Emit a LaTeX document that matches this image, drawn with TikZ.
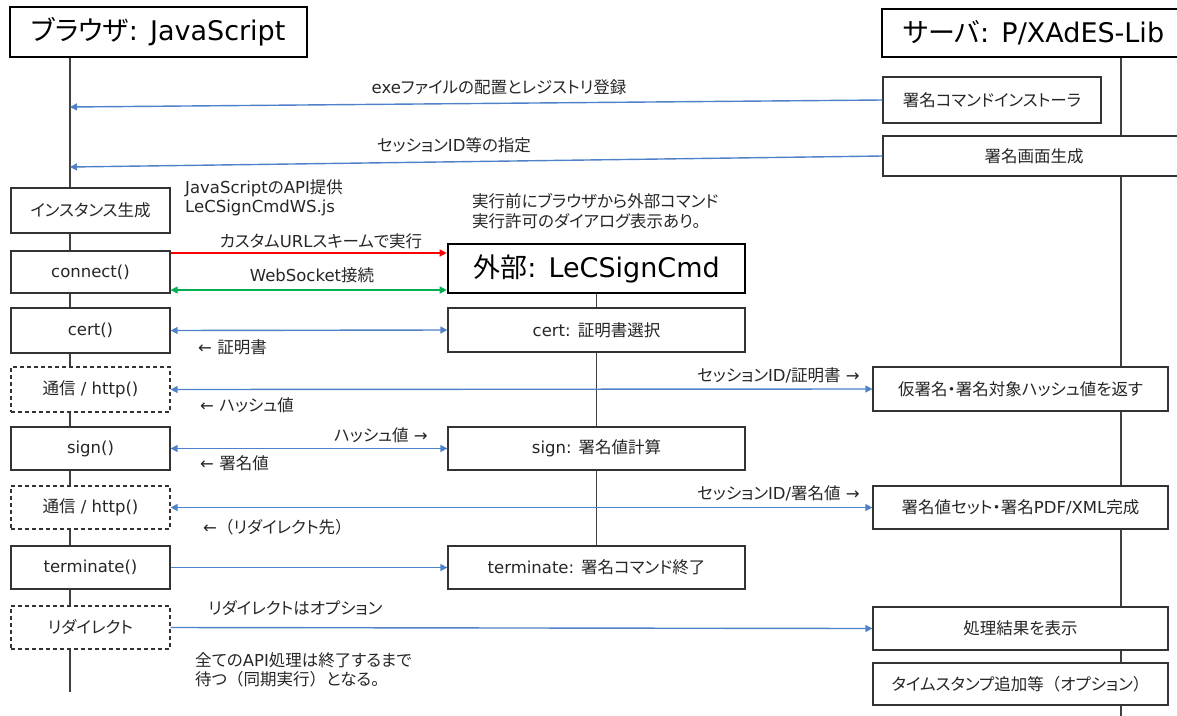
\documentclass[tikz,border=0pt]{standalone}
\usepackage{fontspec}
\setmainfont{DejaVu Sans}
\newfontfamily\jpf{Noto Sans CJK JP}[RawFeature=+palt]
\newfontfamily\jpn{Noto Sans CJK JP}
\newcommand\J[1]{{\jpf #1}}
\newcommand\JN[1]{{\jpn #1}}
\newcommand\hcolon{:\hspace{0.45em}}
\usetikzlibrary{arrows.meta,calc}
\definecolor{boxc}{HTML}{333333}
\definecolor{txt}{HTML}{262626}
\definecolor{life}{HTML}{404040}
\definecolor{bluea}{HTML}{4F81C8}
\definecolor{reda}{HTML}{FF0000}
\definecolor{greena}{HTML}{00B050}
\begin{document}
\begin{tikzpicture}[x=1pt,y=-1pt,
  box/.style={draw=boxc, line width=1.3pt, fill=white, inner sep=0pt, text=txt,
    font=\fontsize{16.5}{20}\selectfont},
  dbox/.style={box, dash pattern=on 4pt off 3pt},
  head/.style={draw=black, line width=2.6pt, fill=white, inner sep=0pt, text=black,
    font=\fontsize{27}{32}\selectfont},
  lbl/.style={inner sep=0pt, text=txt, font=\fontsize{16.5}{20}\selectfont},
  note/.style={lbl, align=left, anchor=west, font=\fontsize{16.5}{19.5}\selectfont},
  lifeline/.style={draw=life, line width=1.5pt},
  msg/.style={draw=bluea, line width=1.4pt, -{Triangle[length=7pt,width=7pt]}},
  dmsg/.style={draw=bluea, line width=1.4pt, {Triangle[length=7pt,width=7pt]}-{Triangle[length=7pt,width=7pt]}}
]
\useasboundingbox (0,0) rectangle (1177,715);

% lifeline end points
\coordinate (bend) at (70,692);
\coordinate (send) at (1121,720);
\coordinate (bl1) at (70,107);
\coordinate (bl2) at (70,167);

% ---- lifelines (behind boxes)
\draw[lifeline] (70,57) -- (bend);
\draw[lifeline] (1121,57) -- (send);
\draw[lifeline] (596.5,293) -- (596.5,546);

% ---- headers
\node[head, minimum width=297pt, minimum height=50pt] (bhead) at (158.5,32) {\J{ブラウザ}\hcolon JavaScript};
\node[head, minimum width=303pt, minimum height=48pt] (shead) at (1033.5,33) {\J{サーバ}\hcolon P/XAdES-Lib};
\node[head, minimum width=297pt, minimum height=49pt] (chead) at (596.5,268.5) {\J{外部}\hcolon LeCSignCmd};

% ---- browser boxes
\node[box, minimum width=159pt, minimum height=45pt] (inst) at (90.5,210.5) {\J{インスタンス生成}};
\node[box, minimum width=159pt, minimum height=42pt] (conn) at (90.5,272) {connect()};
\node[box, minimum width=159pt, minimum height=45pt] (bcert) at (90.5,330.5) {cert()};
\node[dbox, minimum width=159pt, minimum height=45pt] (http1) at (90.5,389.5) {\J{通信} / http()};
\node[box, minimum width=159pt, minimum height=43pt] (bsign) at (90.5,448.5) {sign()};
\node[dbox, minimum width=159pt, minimum height=43pt] (http2) at (90.5,507.5) {\J{通信} / http()};
\node[box, minimum width=159pt, minimum height=43pt] (bterm) at (90.5,567.5) {terminate()};
\node[dbox, minimum width=159pt, minimum height=43pt] (redir) at (90.5,627.5) {\J{リダイレクト}};

% ---- command boxes
\node[box, minimum width=297pt, minimum height=44pt] (ccert) at (596.5,330) {cert: \J{証明書選択}};
\node[box, minimum width=297pt, minimum height=43pt] (csign) at (596.5,448.5) {sign: \J{署名値計算}};
\node[box, minimum width=297pt, minimum height=43pt] (cterm) at (596.5,567.5) {terminate: \J{署名コマンド終了}};

% ---- server boxes
\node[box, minimum width=218pt, minimum height=46pt] (sinst) at (992,100) {\J{署名コマンドインストーラ}};
\node[box, minimum width=302pt, minimum height=40pt] (sgamen) at (1034,156) {\J{署名画面生成}};
\node[box, minimum width=295pt, minimum height=44pt] (skari) at (1020.5,389) {\J{仮署名・署名対象ハッシュ値を返す}};
\node[box, minimum width=295pt, minimum height=43pt] (sset) at (1020.5,507.5) {\J{署名値セット・署名}PDF/XML\J{完成}};
\node[box, minimum width=295pt, minimum height=43pt] (sres) at (1020.5,628.5) {\J{処理結果を表示}};
\node[box, minimum width=295pt, minimum height=42pt] (sts) at (1020.5,684) {\J{タイムスタンプ追加等}\JN{（}\J{オプション}\JN{）}};

% ---- messages
\draw[msg] (sinst.west) -- (bl1);
\draw[msg] (sgamen.west) -- (bl2);

\coordinate (yred) at (0,253);
\coordinate (ygreen) at (0,290);
\draw[draw=reda, line width=1.4pt, -{Triangle[length=7pt,width=7pt]}] (conn.east |- yred) -- (chead.west |- yred);
\draw[draw=greena, line width=1.4pt, {Triangle[length=7pt,width=7pt]}-{Triangle[length=7pt,width=7pt]}] (conn.east |- ygreen) -- (chead.west |- ygreen);

\draw[dmsg] (bcert.east) -- (ccert.west);
\draw[dmsg] (http1.east) -- (skari.west);
\draw[dmsg] (bsign.east) -- (csign.west);
\draw[dmsg] (http2.east) -- (sset.west);
\draw[msg] (bterm.east) -- (cterm.west);
\draw[msg] (redir.east) -- (sres.west);

% ---- labels
\node[lbl] (l1) at (499,87) {exe\J{ファイルの配置とレジストリ登録}};
\node[lbl] (l2) at (454,145) {\J{セッション}ID\J{等の指定}};
\node[note] (n1) at (185,198) {JavaScript\J{の}API\J{提供}\\LeCSignCmdWS.js};
\node[note] (n2) at (472,211) {\J{実行前にブラウザから外部コマンド}\\\J{実行許可のダイアログ表示あり。}};
\node[lbl] (l3) at (321,241) {\J{カスタム}URL\J{スキームで実行}};
\node[lbl] (l4) at (312,275) {WebSocket\J{接続}};
\node[lbl, anchor=west] (l5) at (198,347) {← \J{証明書}};
\node[lbl, anchor=east] (l6) at (860,375) {\J{セッション}ID/\J{証明書} →};
\node[lbl, anchor=west] (l7) at (200,405) {← \J{ハッシュ値}};
\node[lbl, anchor=east] (l8) at (428,435) {\J{ハッシュ値} →};
\node[lbl, anchor=west] (l9) at (200,463) {← \J{署名値}};
\node[lbl, anchor=east] (l10) at (860,493) {\J{セッション}ID/\J{署名値} →};
\node[lbl, anchor=west] (l11) at (203,527) {←\JN{（}\J{リダイレクト先}\JN{）}};
\node[lbl, anchor=west] (l12) at (208,608) {\J{リダイレクトはオプション}};
\node[note] (n3) at (195,670) {\J{全ての}API\J{処理は終了するまで}\\\J{待つ}\JN{（}\J{同期実行}\JN{）}\J{となる。}};
\end{tikzpicture}
\end{document}
